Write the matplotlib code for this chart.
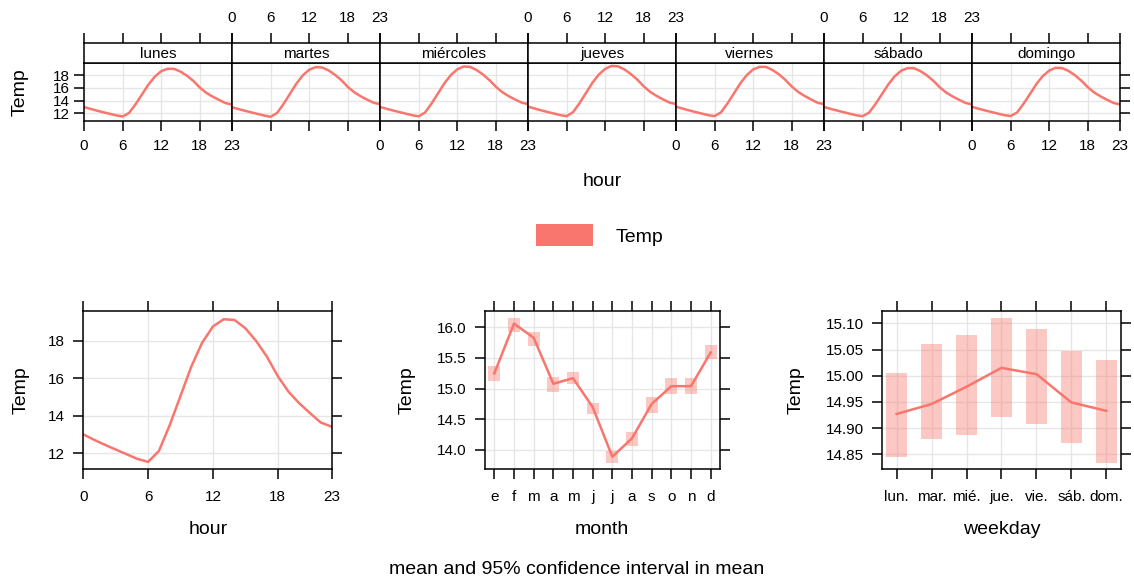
import numpy as np
import matplotlib
matplotlib.use('Agg')
from matplotlib import pyplot as plt
from matplotlib.patches import Patch

plt.rcParams['font.family'] = ['Liberation Sans', 'DejaVu Sans']

# -----------------------------------------------
# data
hours = list(range(24))
days = ['lunes', 'martes', 'miércoles', 'jueves', 'viernes', 'sábado', 'domingo']
day_hour_temp = {
    'lunes':     [12.98, 12.70, 12.42, 12.17, 11.92, 11.68, 11.50, 12.05, 13.40, 14.95, 16.50, 17.75,
                  18.62, 19.00, 18.98, 18.55, 17.90, 17.08, 16.05, 15.22, 14.62, 14.10, 13.60, 13.38],
    'martes':    [12.95, 12.67, 12.40, 12.15, 11.90, 11.65, 11.45, 12.05, 13.45, 15.05, 16.65, 17.95,
                  18.85, 19.25, 19.20, 18.75, 18.05, 17.20, 16.15, 15.30, 14.68, 14.15, 13.66, 13.44],
    'miércoles': [13.00, 12.72, 12.45, 12.20, 11.95, 11.70, 11.52, 12.12, 13.52, 15.10, 16.70, 18.00,
                  18.90, 19.35, 19.30, 18.80, 18.10, 17.22, 16.18, 15.32, 14.70, 14.17, 13.68, 13.45],
    'jueves':    [13.05, 12.76, 12.48, 12.22, 11.97, 11.72, 11.55, 12.18, 13.58, 15.18, 16.78, 18.08,
                  18.98, 19.45, 19.38, 18.88, 18.15, 17.28, 16.22, 15.36, 14.72, 14.18, 13.68, 13.46],
    'viernes':   [13.04, 12.75, 12.47, 12.21, 11.96, 11.71, 11.56, 12.16, 13.55, 15.12, 16.72, 18.00,
                  18.90, 19.30, 19.28, 18.80, 18.12, 17.25, 16.20, 15.35, 14.72, 14.18, 13.66, 13.44],
    'sábado':    [12.99, 12.71, 12.44, 12.19, 11.94, 11.69, 11.55, 12.10, 13.45, 15.00, 16.55, 17.82,
                  18.70, 19.10, 19.08, 18.62, 17.95, 17.10, 16.08, 15.25, 14.64, 14.12, 13.62, 13.40],
    'domingo':   [13.02, 12.73, 12.46, 12.21, 11.96, 11.71, 11.58, 12.12, 13.48, 15.02, 16.58, 17.85,
                  18.72, 19.15, 19.10, 18.65, 17.98, 17.12, 16.10, 15.26, 14.65, 14.12, 13.62, 13.40],
}

hour_temp = [13.01, 12.72, 12.45, 12.20, 11.95, 11.70, 11.54, 12.12, 13.50, 15.06, 16.63, 17.90,
             18.77, 19.16, 19.12, 18.68, 18.00, 17.16, 16.13, 15.29, 14.67, 14.14, 13.64, 13.42]

months = ['e', 'f', 'm', 'a', 'm', 'j', 'j', 'a', 's', 'o', 'n', 'd']
month_temp = [15.25, 16.06, 15.83, 15.08, 15.17, 14.70, 13.89, 14.19, 14.75, 15.04, 15.04, 15.59]
month_lo = [15.13, 15.93, 15.70, 14.95, 15.07, 14.59, 13.78, 14.07, 14.61, 14.91, 14.91, 15.49]
month_hi = [15.37, 16.16, 15.93, 15.19, 15.27, 14.77, 13.98, 14.30, 14.87, 15.17, 15.17, 15.71]

weekdays = ['lun.', 'mar.', 'mié.', 'jue.', 'vie.', 'sáb.', 'dom.']
wday_temp = [14.927, 14.946, 14.979, 15.015, 15.003, 14.949, 14.933]
wday_lo = [14.844, 14.879, 14.886, 14.922, 14.907, 14.872, 14.834]
wday_hi = [15.006, 15.060, 15.078, 15.111, 15.089, 15.048, 15.030]
# -----------------------------------------------

W, H = 1134, 584
col = '#F8766D'
grid_col = '#E6E6E6'
tick_fs = 11
lab_fs = 14


def box(x0, y0, x1, y1):
    """pixel box (top-left origin) -> figure fraction rect"""
    return [x0 / W, 1 - y1 / H, (x1 - x0) / W, (y1 - y0) / H]


def style_ax(ax):
    for s in ax.spines.values():
        s.set_linewidth(1.1)
        s.set_color('black')
    ax.tick_params(direction='out', length=7, width=1.1, labelsize=tick_fs, colors='black')
    ax.set_axisbelow(True)
    ax.grid(True, color=grid_col, lw=1.0)


fig = plt.figure(figsize=(W / 100, H / 100), dpi=100)

# ---- top: hour by day panels
px0, px1 = 84, 1120
pw = (px1 - px0) / 7
for i, d in enumerate(days):
    x0 = px0 + i * pw
    ax = fig.add_axes(box(x0, 62.7, x0 + pw, 120.7))
    st = fig.add_axes(box(x0, 42.7, x0 + pw, 62.7))
    style_ax(ax)
    ax.plot(hours, day_hour_temp[d], color=col, lw=1.8)
    ax.set_xlim(0, 23)
    ax.set_ylim(10.84, 19.95)
    ax.set_xticks([0, 6, 12, 18, 23])
    ax.set_yticks([12, 14, 16, 18])
    ax.tick_params(axis='x', pad=6)
    ax.tick_params(axis='y', pad=3, labelsize=tick_fs, left=(i == 0), labelleft=(i == 0),
                   right=(i == 6), labelright=False)
    if i % 2 == 1:
        ax.tick_params(axis='x', labelbottom=False)

    # strip
    st.set_xlim(0, 23)
    st.set_yticks([])
    st.set_xticks([0, 6, 12, 18, 23])
    for s in st.spines.values():
        s.set_linewidth(1.1)
    st.tick_params(axis='x', direction='out', length=7, width=1.1, labelsize=tick_fs,
                   bottom=False, labelbottom=False, top=True, labeltop=(i % 2 == 1), pad=6)
    st.text(0.5, 0.45, d, transform=st.transAxes, ha='center', va='center', fontsize=11)

fig.text(20 / W, 1 - 92 / H, 'Temp', rotation=90, ha='center', va='center', fontsize=lab_fs)
fig.text(602 / W, 1 - 182 / H, 'hour', ha='center', va='center', fontsize=lab_fs)

fig.legend(handles=[Patch(facecolor=col, edgecolor='none')], labels=['Temp'],
           loc='center', bbox_to_anchor=(600 / W, 1 - 235 / H), frameon=False,
           fontsize=lab_fs, handlelength=2.9, handleheight=1.3, handletextpad=1.2)

# ---- bottom left: hour
ax1 = fig.add_axes(box(83.3, 311, 331.7, 469))
style_ax(ax1)
ax1.plot(hours, hour_temp, color=col, lw=1.8)
ax1.set_xlim(0, 23)
ax1.set_ylim(11.16, 19.6)
ax1.set_xticks([0, 6, 12, 18, 23])
ax1.set_yticks([12, 14, 16, 18])
ax1.tick_params(top=True, right=True)
ax1.tick_params(axis='x', pad=8)
ax1.tick_params(axis='y', pad=6)

# ---- bottom middle: month
ax2 = fig.add_axes(box(485, 311, 720, 469))
style_ax(ax2)
mx = np.arange(1, len(months) + 1)
ax2.bar(mx, np.array(month_hi) - np.array(month_lo), bottom=month_lo, width=0.6,
        color=col, alpha=0.4, lw=0)
ax2.plot(mx, month_temp, color=col, lw=1.8)
ax2.set_xlim(0.525, 12.475)
ax2.set_ylim(13.69, 16.266)
ax2.set_xticks(mx)
ax2.set_xticklabels(months)
ax2.set_yticks([14.0, 14.5, 15.0, 15.5, 16.0])
ax2.set_yticklabels(['14.0', '14.5', '15.0', '15.5', '16.0'])
ax2.tick_params(top=True, right=True)
ax2.tick_params(axis='x', pad=8)
ax2.tick_params(axis='y', pad=6)

# ---- bottom right: weekday
ax3 = fig.add_axes(box(882.3, 311, 1121, 469))
style_ax(ax3)
wx = np.arange(1, len(weekdays) + 1)
ax3.bar(wx, np.array(wday_hi) - np.array(wday_lo), bottom=wday_lo, width=0.6,
        color=col, alpha=0.4, lw=0)
ax3.plot(wx, wday_temp, color=col, lw=1.8)
ax3.set_xlim(0.59, 7.42)
ax3.set_ylim(14.822, 15.1235)
ax3.set_xticks(wx)
ax3.set_xticklabels(weekdays)
ax3.set_yticks([14.85, 14.90, 14.95, 15.00, 15.05, 15.10])
ax3.set_yticklabels(['14.85', '14.90', '14.95', '15.00', '15.05', '15.10'])
ax3.tick_params(top=True, right=True)
ax3.tick_params(axis='x', pad=8)
ax3.tick_params(axis='y', pad=6)

for xc, lab in [(208, 'hour'), (602, 'month'), (1002, 'weekday')]:
    fig.text(xc / W, 1 - 530 / H, lab, ha='center', va='center', fontsize=lab_fs)
for xc in [21, 407, 796]:
    fig.text(xc / W, 1 - 390 / H, 'Temp', rotation=90, ha='center', va='center', fontsize=lab_fs)

fig.text(577 / W, 1 - 570 / H, 'mean and 95% confidence interval in mean', ha='center',
         va='center', fontsize=lab_fs)

fig.savefig('out.png', dpi=100)
